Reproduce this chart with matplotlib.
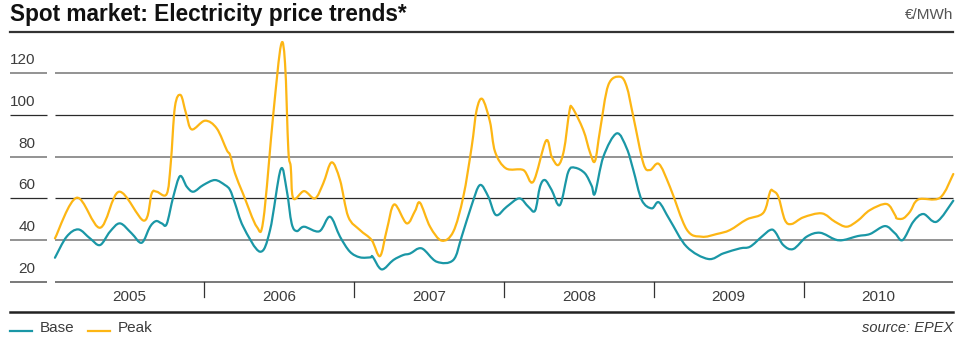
import matplotlib
matplotlib.use("Agg")
import matplotlib.pyplot as plt
from matplotlib.lines import Line2D
from matplotlib.path import Path
from matplotlib.patches import PathPatch
import matplotlib.transforms as mtransforms
import numpy as np

# ---- data (x = decimal years) ----
peak_t = [2005.003, 2005.148, 2005.304, 2005.431, 2005.597, 2005.649, 2005.682, 2005.749,
          2005.776, 2005.804, 2005.842, 2005.878, 2005.916, 2006.005, 2006.083, 2006.150,
          2006.172, 2006.205, 2006.260, 2006.350, 2006.394, 2006.461, 2006.512, 2006.539,
          2006.561, 2006.577, 2006.594, 2006.666, 2006.739, 2006.794, 2006.850, 2006.906,
          2006.961, 2007.039, 2007.117, 2007.173, 2007.218, 2007.268, 2007.351, 2007.407,
          2007.440, 2007.507, 2007.585, 2007.662, 2007.729, 2007.785, 2007.818, 2007.856,
          2007.907, 2007.941, 2008.014, 2008.130, 2008.196, 2008.281, 2008.319, 2008.363,
          2008.401, 2008.437, 2008.457, 2008.530, 2008.575, 2008.608, 2008.642, 2008.697,
          2008.775, 2008.820, 2008.864, 2008.931, 2008.975, 2009.035, 2009.108, 2009.220,
          2009.320, 2009.421, 2009.509, 2009.621, 2009.732, 2009.777, 2009.798, 2009.832,
          2009.876, 2009.921, 2009.999, 2010.122, 2010.210, 2010.288, 2010.362, 2010.444,
          2010.555, 2010.611, 2010.622, 2010.666, 2010.711, 2010.767, 2010.911, 2011.000]
peak_v = [40.8, 60.3, 45.9, 63.2, 49.3, 62.4, 63.2, 62.1,
          76.8, 104.0, 109.6, 100.8, 93.1, 97.3, 93.6, 83.2,
          80.8, 72.0, 62.0, 46.4, 49.6, 100.8, 133.6, 124.8,
          83.2, 75.2, 60.0, 63.5, 60.0, 67.2, 77.3, 68.8,
          51.2, 44.8, 40.0, 32.3, 44.8, 57.1, 48.0, 54.0,
          57.9, 46.4, 39.7, 44.0, 60.8, 84.8, 102.4, 107.7,
          96.8, 82.4, 74.4, 73.6, 68.0, 87.7, 80.0, 76.0,
          83.2, 101.6, 103.5, 92.8, 82.0, 77.9, 92.8, 114.4,
          118.4, 113.6, 99.2, 76.8, 73.6, 76.5, 65.6, 45.1,
          41.6, 42.9, 44.8, 49.9, 53.1, 63.2, 63.5, 60.8,
          49.6, 47.7, 50.9, 52.8, 48.8, 46.4, 49.3, 54.4,
          57.3, 52.0, 50.4, 50.4, 53.6, 59.5, 60.3, 71.7]

base_t = [2005.003, 2005.081, 2005.159, 2005.237, 2005.304, 2005.370, 2005.437, 2005.515,
          2005.582, 2005.638, 2005.678, 2005.716, 2005.749, 2005.793, 2005.838, 2005.883,
          2005.927, 2005.993, 2006.071, 2006.138, 2006.172, 2006.205, 2006.260, 2006.372,
          2006.439, 2006.510, 2006.550, 2006.583, 2006.617, 2006.666, 2006.768, 2006.839,
          2006.906, 2006.972, 2007.039, 2007.111, 2007.124, 2007.184, 2007.262, 2007.328,
          2007.373, 2007.451, 2007.551, 2007.662, 2007.718, 2007.785, 2007.840, 2007.896,
          2007.947, 2008.019, 2008.103, 2008.163, 2008.208, 2008.241, 2008.274, 2008.319,
          2008.374, 2008.430, 2008.475, 2008.541, 2008.586, 2008.608, 2008.664, 2008.753,
          2008.820, 2008.864, 2008.920, 2008.987, 2009.035, 2009.108, 2009.220, 2009.364,
          2009.465, 2009.576, 2009.643, 2009.721, 2009.777, 2009.810, 2009.865, 2009.932,
          2010.021, 2010.110, 2010.210, 2010.266, 2010.362, 2010.444, 2010.544, 2010.611,
          2010.662, 2010.733, 2010.800, 2010.889, 2011.000]
base_v = [31.5, 41.6, 45.1, 40.8, 37.6, 44.0, 48.0, 43.2,
          38.7, 46.4, 49.1, 48.0, 47.7, 60.8, 70.7, 65.6,
          63.2, 66.4, 68.8, 66.4, 64.0, 57.6, 46.4, 34.4,
          44.8, 73.9, 64.0, 48.0, 44.3, 46.4, 44.2, 51.2,
          41.6, 34.4, 31.7, 31.7, 32.0, 25.9, 30.4, 32.8,
          33.5, 36.0, 29.6, 30.4, 41.6, 56.8, 66.4, 60.8,
          52.0, 56.0, 60.0, 56.0, 54.1, 65.6, 68.8, 64.0,
          56.8, 72.8, 74.7, 72.0, 66.0, 62.4, 80.0, 91.2,
          84.0, 73.6, 59.2, 55.2, 58.1, 49.6, 36.8, 30.9,
          33.6, 36.0, 36.8, 41.6, 44.8, 44.0, 37.6, 35.7,
          41.6, 43.5, 40.3, 40.0, 41.9, 42.9, 46.7, 43.2,
          40.0, 48.8, 52.5, 48.8, 58.9]

years = [2005, 2006, 2007, 2008, 2009, 2010]
y_ticks = [20, 40, 60, 80, 100, 120]
series_names = ["Base", "Peak"]

# ---- styling ----
TEAL = "#1a97a6"
AMBER = "#fdb614"
TXT = "#3c3c3c"
FONT = ["Liberation Sans", "DejaVu Sans"]
plt.rcParams["font.family"] = FONT

W, H = 966, 338
fig = plt.figure(figsize=(W / 100, H / 100), dpi=100)

def fx(px):
    return px / W

def fy(py):
    return 1 - py / H

x0, x1 = 54.5, 953.3
yb, yt = 281.7, 35.9
ax = fig.add_axes([fx(x0), fy(yb), (x1 - x0) / W, (yb - yt) / H])
ax.set_xlim(2005, 2011)
ax.set_ylim(20, 138)
ax.axis("off")

# gridlines (left stub + main)
trans_y = mtransforms.blended_transform_factory(ax.transAxes, ax.transData)
stub_l = (10 - x0) / (x1 - x0)
stub_r = (47 - x0) / (x1 - x0)
for v in y_ticks:
    if v in (40, 80, 120):
        col, lw = "#8a8a8a", 1.3
    elif v == 20:
        col, lw = "#555555", 1.1
    else:
        col, lw = "#2a2a2a", 0.9
    ax.plot([stub_l, stub_r], [v, v], transform=trans_y, color=col, lw=lw,
            clip_on=False, solid_capstyle="butt", zorder=1)
    ax.plot([0, 1], [v, v], transform=trans_y, color=col, lw=lw,
            clip_on=False, solid_capstyle="butt", zorder=1)
    ax.text((35.5 - x0) / (x1 - x0), v + 13 / 2.083, str(v), transform=trans_y,
            ha="right", va="center", fontsize=11, color=TXT)

# year separators and labels
trans_x = mtransforms.blended_transform_factory(ax.transData, ax.transAxes)
px_per_axes = yb - yt
for y in years[1:]:
    ax.plot([y, y], [0, -(296.5 - yb) / px_per_axes], transform=trans_x,
            color="#333333", lw=0.9, clip_on=False, zorder=1)
for y in years:
    ax.text(y + 0.5, -(297 - yb) / px_per_axes, str(y), transform=trans_x,
            ha="center", va="center", fontsize=11, color=TXT)


def smooth_line(ax, xs, ys, color):
    """Draw a smooth (Catmull-Rom style) curve through the data points."""
    p = np.column_stack([xs, ys]).astype(float)
    n = len(p)
    verts = [p[0]]
    codes = [Path.MOVETO]
    for i in range(n - 1):
        pm = p[i - 1] if i > 0 else p[i]
        pp = p[i + 2] if i + 2 < n else p[i + 1]
        c1 = p[i] + (p[i + 1] - pm) / 6.0
        c2 = p[i + 1] - (pp - p[i]) / 6.0
        verts += [c1, c2, p[i + 1]]
        codes += [Path.CURVE4] * 3
    patch = PathPatch(Path(verts, codes), facecolor="none", edgecolor=color,
                      lw=1.6, joinstyle="round", capstyle="round", zorder=3,
                      transform=ax.transData)
    patch.set_clip_on(False)
    ax.add_patch(patch)


smooth_line(ax, base_t, base_v, TEAL)
smooth_line(ax, peak_t, peak_v, AMBER)

# title, unit, rules
fig.text(fx(10), fy(15), "Spot market: Electricity price trends*", fontsize=16.3,
         fontweight="bold", color="#111111", ha="left", va="center")
fig.text(fx(953), fy(15), "€/MWh", fontsize=11, color="#555555", ha="right", va="center")
fig.add_artist(Line2D([fx(10), fx(953)], [fy(31.7), fy(31.7)], color="#333333", lw=1.6))
fig.add_artist(Line2D([fx(10), fx(953)], [fy(311.7), fy(311.7)], color="#222222", lw=1.8))

# legend
fig.add_artist(Line2D([fx(10), fx(32)], [fy(331), fy(331)], color=TEAL, lw=1.6))
fig.text(fx(40), fy(327.5), series_names[0], fontsize=11, color=TXT, ha="left", va="center")
fig.add_artist(Line2D([fx(88), fx(110)], [fy(331), fy(331)], color=AMBER, lw=1.6))
fig.text(fx(118), fy(327.5), series_names[1], fontsize=11, color=TXT, ha="left", va="center")
fig.text(fx(953), fy(327.5), "source: EPEX", fontsize=10.5, style="italic", color=TXT,
         ha="right", va="center")

fig.savefig("out.png", dpi=100)
